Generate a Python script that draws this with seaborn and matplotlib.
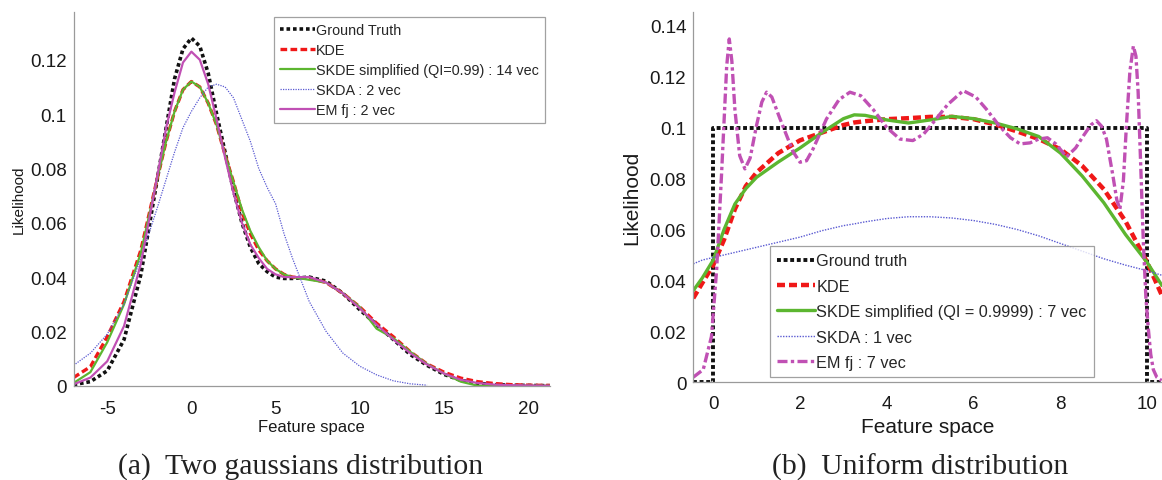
import numpy as np
import pandas as pd
import matplotlib
matplotlib.use("Agg")
import matplotlib.pyplot as plt
from matplotlib.ticker import FuncFormatter
import seaborn as sns

# ---------------- (a) two gaussians ----------------
x_a = [-7, -6, -5, -4, -3, -2, -1.5, -1, -0.5, 0, 0.5, 1, 1.5, 2, 2.5, 3, 3.5, 4,
       4.5, 5, 5.5, 6, 7, 8, 9, 10, 11, 12, 13, 14, 15, 16, 17, 18, 19, 20, 21.3]
truth_a = [0.0004, 0.0015, 0.0055, 0.017, 0.041, 0.077, 0.095, 0.113, 0.124, 0.128,
           0.125, 0.115, 0.100, 0.086, 0.072, 0.060, 0.051, 0.045, 0.042, 0.040,
           0.0395, 0.0395, 0.040, 0.0385, 0.034, 0.028, 0.0225, 0.017, 0.0115,
           0.0075, 0.0042, 0.002, 0.0009, 0.0004, 0.0002, 0.0001, 0.0]
kde_a = [0.003, 0.007, 0.018, 0.031, 0.050, 0.077, 0.090, 0.101, 0.109, 0.112,
         0.110, 0.104, 0.096, 0.085, 0.075, 0.064, 0.056, 0.050, 0.046, 0.043,
         0.041, 0.040, 0.0395, 0.038, 0.034, 0.029, 0.023, 0.018, 0.0125, 0.008,
         0.005, 0.0028, 0.0015, 0.0008, 0.0004, 0.0002, 0.0001]
skde_a = [0.001, 0.005, 0.016, 0.030, 0.049, 0.077, 0.090, 0.101, 0.109, 0.112,
          0.110, 0.104, 0.096, 0.085, 0.075, 0.065, 0.057, 0.051, 0.046, 0.043,
          0.041, 0.040, 0.039, 0.038, 0.034, 0.029, 0.021, 0.0175, 0.0125, 0.008,
          0.0045, 0.0015, 0.0, 0.0, 0.0, 0.0, 0.0]
em_a = [0.0005, 0.003, 0.009, 0.022, 0.045, 0.078, 0.095, 0.108, 0.119, 0.123,
        0.120, 0.111, 0.098, 0.084, 0.071, 0.060, 0.052, 0.047, 0.043, 0.041,
        0.040, 0.040, 0.040, 0.038, 0.034, 0.0285, 0.0225, 0.017, 0.012, 0.0078,
        0.0045, 0.0022, 0.001, 0.0004, 0.0002, 0.0001, 0.0]
x_skda_a = [-7, -6, -5, -4, -3, -2, -1.5, -1, -0.5, 0, 0.5, 1, 1.5, 2, 2.5, 3, 3.5,
            4, 4.5, 5, 5.5, 6, 7, 8, 9, 10, 11, 12, 13, 14]
skda_a = [0.0075, 0.012, 0.019, 0.030, 0.047, 0.066, 0.076, 0.086, 0.095, 0.101,
          0.106, 0.110, 0.111, 0.110, 0.106, 0.098, 0.090, 0.080, 0.073, 0.067,
          0.056, 0.047, 0.031, 0.020, 0.012, 0.0072, 0.004, 0.0018, 0.0007, 0.0002]
labels_a = ["Ground Truth", "KDE", "SKDE simplified (QI=0.99) : 14 vec",
            "SKDA : 2 vec", "EM fj : 2 vec"]

# ---------------- (b) uniform ----------------
x_b = [-0.46, -0.25, 0, 0.25, 0.5, 0.75, 1, 1.5, 2, 2.5, 3, 3.25, 3.5, 4, 4.5, 5,
       5.5, 6, 6.5, 7, 7.5, 8, 8.5, 9, 9.5, 10, 10.34]
kde_b = [0.033, 0.039, 0.046, 0.056, 0.068, 0.077, 0.0824, 0.090, 0.095, 0.098,
         0.101, 0.102, 0.1025, 0.1033, 0.1037, 0.1042, 0.1042, 0.1033, 0.1012,
         0.0985, 0.0955, 0.0915, 0.085, 0.0758, 0.0632, 0.047, 0.034]
skde_b = [0.036, 0.041, 0.048, 0.060, 0.070, 0.076, 0.0805, 0.0865, 0.092, 0.098,
          0.1035, 0.105, 0.1048, 0.103, 0.1018, 0.103, 0.1044, 0.1035, 0.1018,
          0.0995, 0.0965, 0.090, 0.081, 0.0705, 0.058, 0.047, 0.038]
skda_b = [0.0465, 0.048, 0.049, 0.050, 0.051, 0.052, 0.053, 0.055, 0.057, 0.0595,
          0.0615, 0.0622, 0.063, 0.0643, 0.065, 0.065, 0.0645, 0.0635, 0.062,
          0.060, 0.0575, 0.0545, 0.0515, 0.0485, 0.046, 0.0438, 0.042]
x_truth_b = [-0.46, 0, 0, 10, 10, 10.34]
truth_b = [0.0, 0.0, 0.1, 0.1, 0.0, 0.0]
x_em_b = [-0.46, -0.23, -0.04, 0.08, 0.19, 0.31, 0.37, 0.43, 0.5, 0.61, 0.73, 0.85,
          1.0, 1.12, 1.23, 1.35, 1.54, 1.84, 2.0, 2.15, 2.3, 2.61, 2.9, 3.15, 3.4,
          3.69, 4.0, 4.3, 4.6, 4.85, 5.07, 5.4, 5.76, 6.05, 6.29, 6.6, 6.85, 7.07,
          7.3, 7.5, 7.7, 7.9, 8.14, 8.35, 8.53, 8.7, 8.83, 8.95, 9.06, 9.2, 9.3,
          9.37, 9.45, 9.52, 9.6, 9.68, 9.74, 9.79, 9.85, 9.91, 9.97, 10.02, 10.08,
          10.14, 10.22, 10.33]
em_b = [0.002, 0.005, 0.018, 0.0445, 0.081, 0.124, 0.1348, 0.126, 0.107, 0.089,
        0.0838, 0.088, 0.101, 0.110, 0.1139, 0.112, 0.1034, 0.0905, 0.0864, 0.087,
        0.0916, 0.1034, 0.111, 0.1139, 0.1125, 0.107, 0.100, 0.0955, 0.0949,
        0.0975, 0.102, 0.109, 0.1145, 0.112, 0.1073, 0.1005, 0.096, 0.0936, 0.094,
        0.0955, 0.096, 0.0935, 0.0885, 0.092, 0.0968, 0.101, 0.1027, 0.1005,
        0.0955, 0.082, 0.0715, 0.068, 0.079, 0.1008, 0.122, 0.132, 0.128, 0.114,
        0.085, 0.055, 0.033, 0.022, 0.011, 0.005, 0.002, 0.0007]
labels_b = ["Ground truth", "KDE", "SKDE simplified (QI = 0.9999) : 7 vec",
            "SKDA : 1 vec", "EM fj : 7 vec"]

sns.set_style("white")
plt.rcParams["font.family"] = ["Liberation Sans", "DejaVu Sans"]
plt.rcParams["axes.unicode_minus"] = False

BLACK = "#111111"
RED = "#f01818"
GREEN = "#5cb630"
BLUE = "#5a5ad2"
MAGENTA = "#c050b4"
SPINE = "#9a9a9a"
TEXT = "#1a1a1a"

fig = plt.figure(figsize=(11.62, 4.81), dpi=100)
ax_a = fig.add_axes([0.0633, 0.196, 0.410, 0.777])
ax_b = fig.add_axes([0.5966, 0.2031, 0.4034, 0.770])


def curve(ax, x, y, **kw):
    sns.lineplot(x=x, y=y, ax=ax, estimator=None, sort=False, **kw)
    return ax.lines[-1]


def style_axes(ax, xlim, ylim, xticks, yticks, tick_size, xpad):
    ax.set_xlim(*xlim)
    ax.set_ylim(*ylim)
    ax.set_xticks(xticks)
    ax.set_yticks(yticks)
    ax.yaxis.set_major_formatter(FuncFormatter(lambda v, p: "%g" % round(v, 4)))
    ax.tick_params(direction="in", length=4, width=0.8, color=SPINE,
                   labelsize=tick_size, labelcolor=TEXT, pad=5)
    ax.tick_params(axis="x", pad=xpad)
    for side in ("top", "right"):
        ax.spines[side].set_visible(False)
    for side in ("left", "bottom"):
        ax.spines[side].set_color(SPINE)
        ax.spines[side].set_linewidth(0.9)
    ax.set_facecolor("white")


# panel (a)
h = []
h.append(curve(ax_a, x_a, truth_a, color=BLACK, lw=2.6, linestyle=(0, (1, 0.8))))
h.append(curve(ax_a, x_a, kde_a, color=RED, lw=2.4, linestyle=(0, (2, 1))))
h.append(curve(ax_a, x_a, skde_a, color=GREEN, lw=1.6, linestyle="-"))
h.append(curve(ax_a, x_skda_a, skda_a, color=BLUE, lw=0.9, linestyle=(0, (1, 1))))
h.append(curve(ax_a, x_a, em_a, color=MAGENTA, lw=1.6, linestyle="-"))
style_axes(ax_a, (-7, 21.3), (0, 0.1376), [-5, 0, 5, 10, 15, 20],
           [0, 0.02, 0.04, 0.06, 0.08, 0.1, 0.12], 13.5, 10)
ax_a.set_xlabel("Feature space", fontsize=12, color=TEXT, labelpad=2)
ax_a.set_ylabel("Likelihood", fontsize=11, color=TEXT, labelpad=3)
leg_a = ax_a.legend(h, labels_a, loc="upper right", bbox_to_anchor=(0.9895, 0.986),
                    fontsize=10.4, frameon=True, fancybox=False, handlelength=2.4,
                    handletextpad=0.1, labelspacing=0.42, borderpad=0.4,
                    borderaxespad=0)
leg_a.get_frame().set_edgecolor("#8a8a8a")
leg_a.get_frame().set_linewidth(0.9)

# panel (b)
h = []
h.append(curve(ax_b, x_truth_b, truth_b, color=BLACK, lw=2.8, linestyle=(0, (1, 0.7))))
h.append(curve(ax_b, x_b, kde_b, color=RED, lw=3.2, linestyle=(0, (1.8, 0.9))))
h.append(curve(ax_b, x_b, skde_b, color=GREEN, lw=2.4, linestyle="-"))
h.append(curve(ax_b, x_b, skda_b, color=BLUE, lw=1.0, linestyle=(0, (1, 1))))
h.append(curve(ax_b, x_em_b, em_b, color=MAGENTA, lw=2.4, linestyle=(0, (3, 1, 1, 1))))
style_axes(ax_b, (-0.46, 10.34), (0, 0.1454), [0, 2, 4, 6, 8, 10],
           [0, 0.02, 0.04, 0.06, 0.08, 0.1, 0.12, 0.14], 13.5, 9)
ax_b.set_xlabel("Feature space", fontsize=15, color=TEXT, labelpad=4)
ax_b.set_ylabel("Likelihood", fontsize=15, color=TEXT, labelpad=6)
leg_b = ax_b.legend(h, labels_b, loc="lower left", bbox_to_anchor=(0.164, 0.014),
                    fontsize=11.7, frameon=True, fancybox=False, handlelength=2.3,
                    handletextpad=0.1, labelspacing=0.64, borderpad=0.44,
                    borderaxespad=0)
leg_b.get_frame().set_edgecolor("#8a8a8a")
leg_b.get_frame().set_linewidth(0.9)

# subfigure captions
cap = dict(family=["Liberation Serif", "DejaVu Serif"], fontsize=21.3,
           color="#222222", ha="center", va="center")
fig.text(301 / 1162, 1 - 467 / 481, "(a)  Two gaussians distribution", **cap)
fig.text(920 / 1162, 1 - 467 / 481, "(b)  Uniform distribution", **cap)

fig.savefig("out.png", dpi=100, facecolor="white")
